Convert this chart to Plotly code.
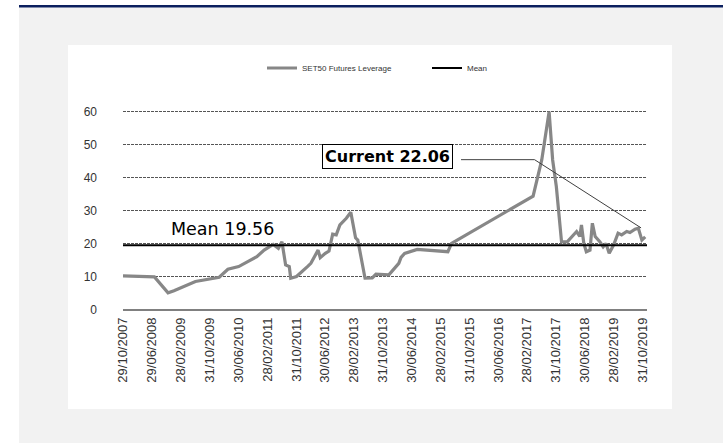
import plotly.graph_objects as go

# ---------------- data ----------------
dates = [
    "2007-10-29", "2008-01-31", "2008-04-30", "2008-07-20", "2008-11-12", "2009-01-01",
    "2009-07-01", "2009-11-01", "2010-01-18", "2010-04-01", "2010-07-01", "2010-10-01",
    "2010-12-01", "2011-02-01", "2011-04-18", "2011-06-01", "2011-07-01", "2011-08-01",
    "2011-09-01", "2011-09-13", "2011-11-01", "2012-02-01", "2012-03-01", "2012-05-01",
    "2012-05-19", "2012-07-01", "2012-08-01", "2012-09-01", "2012-10-01", "2012-11-01",
    "2012-12-25", "2013-02-01", "2013-03-13", "2013-04-01", "2013-06-01", "2013-08-01",
    "2013-09-01", "2013-12-19", "2014-03-13", "2014-04-01", "2014-05-01", "2014-08-15",
    "2015-05-01", "2015-06-01", "2017-04-19", "2017-07-01", "2017-08-01", "2017-09-01",
    "2017-10-01", "2017-11-01", "2017-12-15", "2018-02-01", "2018-04-21", "2018-05-18",
    "2018-06-01", "2018-06-21", "2018-07-12", "2018-08-12", "2018-09-01", "2018-09-25",
    "2018-11-03", "2018-12-01", "2018-12-25", "2019-01-21", "2019-02-27", "2019-04-06",
    "2019-05-06", "2019-06-18", "2019-07-15", "2019-08-27", "2019-09-24", "2019-10-24",
    "2019-11-21",
]
leverage = [
    10.3, 10.2, 10.1, 10.0, 5.2, 5.8,
    8.6, 9.4, 9.9, 12.3, 13.1, 14.9,
    16.1, 18.1, 19.8, 18.6, 20.6, 13.6,
    13.1, 9.6, 10.1, 13.1, 14.1, 18.1,
    15.8, 17.1, 17.8, 22.9, 22.7, 25.7,
    27.7, 29.5, 21.8, 21.1, 9.6, 9.7,
    10.8, 10.6, 14.1, 15.9, 17.1, 18.3,
    17.6, 20.1, 34.4, 45.3, 52.4, 59.9,
    45.3, 37.3, 20.6, 20.6, 23.7, 22.2,
    25.7, 20.1, 17.6, 18.1, 26.2, 22.2,
    20.6, 19.1, 20.1, 17.1, 19.6, 23.2,
    22.7, 23.7, 23.4, 24.4, 24.7, 21.1,
    22.06,
]
mean_value = 19.56
current_value = 22.06

tick_dates = [
    "2007-10-29", "2008-06-29", "2009-02-28", "2009-10-31", "2010-06-30", "2011-02-28",
    "2011-10-31", "2012-06-30", "2013-02-28", "2013-10-31", "2014-06-30", "2015-02-28",
    "2015-10-31", "2016-06-30", "2017-02-28", "2017-10-31", "2018-06-30", "2019-02-28",
    "2019-10-31",
]
tick_labels = [
    "29/10/2007", "29/06/2008", "28/02/2009", "31/10/2009", "30/06/2010", "28/02/2011",
    "31/10/2011", "30/06/2012", "28/02/2013", "31/10/2013", "30/06/2014", "28/02/2015",
    "31/10/2015", "30/06/2016", "28/02/2017", "31/10/2017", "30/06/2018", "28/02/2019",
    "31/10/2019",
]
y_ticks = [0, 10, 20, 30, 40, 50, 60]

series_name = "SET50 Futures Leverage"
mean_name = "Mean"

# ---------------- layout helpers ----------------
W, H = 723, 443
L, R, T, B = 123, 76, 108, 133
PW, PH = W - L - R, H - T - B
x_range = ["2007-10-29", "2019-12-06"]


def px_x(p):
    return (p - L) / PW


def px_y(p):
    return (H - B - p) / PH


fig = go.Figure()

fig.add_trace(go.Scatter(
    x=dates, y=leverage, mode="lines", name=series_name,
    line=dict(color="#878787", width=3.2),
))
fig.add_trace(go.Scatter(
    x=x_range, y=[mean_value, mean_value], mode="lines", name=mean_name,
    line=dict(color="#000000", width=2),
))

shapes = [
    dict(type="rect", xref="paper", yref="paper", x0=px_x(19), x1=px_x(W + 5),
         y0=px_y(H + 5), y1=px_y(7.5), fillcolor="#f2f2f2", line_width=0, layer="below"),
    dict(type="rect", xref="paper", yref="paper", x0=px_x(19), x1=px_x(W + 5),
         y0=px_y(7.5), y1=px_y(5), fillcolor="#0b1f5e", line_width=0, layer="below"),
    dict(type="rect", xref="paper", yref="paper", x0=px_x(68), x1=px_x(672),
         y0=px_y(409), y1=px_y(45), fillcolor="#ffffff", line_width=0, layer="below"),
    dict(type="line", xref="x", yref="y", x0="2015-08-20", x1="2017-05-01",
         y0=45.4, y1=45.4, line=dict(color="#404040", width=1)),
    dict(type="line", xref="x", yref="y", x0="2017-05-01", x1="2019-10-17",
         y0=45.4, y1=24.8, line=dict(color="#404040", width=1)),
]

annotations = [
    dict(x="2010-02-12", y=24.5, xref="x", yref="y", text="Mean " + f"{mean_value:.2f}",
         showarrow=False, font=dict(family="DejaVu Sans", size=17.5, color="#000000")),
    dict(x="2013-12-07", y=46.4, xref="x", yref="y", text="<b>Current " + f"{current_value:.2f}" + "</b>",
         showarrow=False, font=dict(family="DejaVu Sans", size=16, color="#000000"),
         bordercolor="#000000", borderwidth=1, borderpad=2, bgcolor="#ffffff"),
]

fig.update_layout(
    width=W, height=H, autosize=False,
    margin=dict(l=L, r=R, t=T, b=B, pad=0),
    paper_bgcolor="#ffffff", plot_bgcolor="rgba(0,0,0,0)",
    font=dict(family="Liberation Sans, Arial", color="#333333"),
    showlegend=True,
    legend=dict(orientation="h", x=px_x(262), y=px_y(68), xanchor="left", yanchor="middle",
                font=dict(size=8, color="#333333"), bgcolor="rgba(0,0,0,0)",
                entrywidth=120, entrywidthmode="pixels", itemwidth=30),
    shapes=shapes, annotations=annotations,
    xaxis=dict(
        type="date", range=x_range, tickmode="array", tickvals=tick_dates, ticktext=tick_labels,
        tickangle=-90, tickfont=dict(size=13, color="#333333"), showgrid=False,
        ticks="", showline=False, zeroline=False, ticklabelstandoff=4,
    ),
    yaxis=dict(
        range=[0, 61], tickmode="array", tickvals=y_ticks, tickfont=dict(size=12, color="#333333"),
        showgrid=True, gridcolor="#555555", griddash="3px,1px", gridwidth=1,
        zeroline=True, zerolinecolor="#808080", zerolinewidth=1.5,
        ticks="", showline=False, ticklabelstandoff=25,
    ),
)

fig.write_html("out.html", config={"displayModeBar": False},
               post_script="document.body.style.margin='0';")
